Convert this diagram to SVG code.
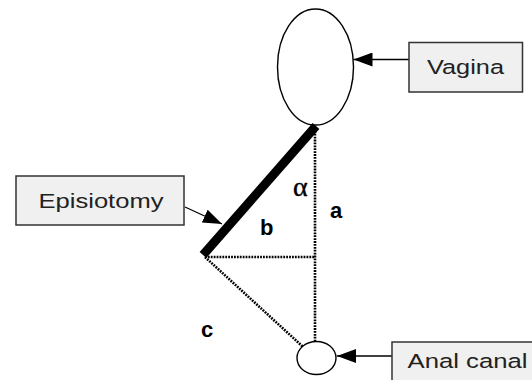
<svg xmlns="http://www.w3.org/2000/svg" width="532" height="380" viewBox="0 0 532 380">
<defs>
<marker id="ah" markerUnits="userSpaceOnUse" markerWidth="20" markerHeight="14" refX="19" refY="7" orient="auto">
<path d="M0,0 L19,7 L0,14 Z" fill="#000"/>
</marker>
<style>
.box{fill:#f0f0f0;stroke:#333;stroke-width:1.5}
.lbl{font-family:"Liberation Sans",Arial,sans-serif;font-size:20.5px;fill:#222}
.var{font-family:"Liberation Sans",Arial,sans-serif;font-size:22px;font-weight:bold;fill:#000}
.dot{fill:none;stroke:#000;stroke-width:2.6;stroke-dasharray:1.8 1.1}
.conn{fill:none;stroke:#000;stroke-width:1.3}
.shape{fill:#fff;stroke:#000;stroke-width:1.4}
</style>
</defs>
<rect width="532" height="380" fill="#fff"/>
<g id="guides">
<line class="dot" x1="315" y1="128" x2="315" y2="341"/>
<line class="dot" x1="205" y1="257" x2="315" y2="257"/>
<line class="dot" x1="205" y1="257" x2="313" y2="356"/>
</g>
<g id="vagina-shape"><ellipse class="shape" cx="315.5" cy="67" rx="38" ry="58"/></g>
<g id="anal-shape"><ellipse class="shape" cx="316.5" cy="358" rx="19.5" ry="16.5" fill="none"/></g>
<g id="episiotomy-line"><line x1="316" y1="126" x2="203" y2="255" stroke="#000" stroke-width="9"/></g>
<g id="connectors">
<line class="conn" x1="409" y1="59.5" x2="353.5" y2="59.5" marker-end="url(#ah)"/>
<line class="conn" x1="185" y1="207" x2="222" y2="224" marker-end="url(#ah)"/>
<line class="conn" x1="392" y1="356" x2="337" y2="356" marker-end="url(#ah)"/>
</g>
<g id="vagina"><rect class="box" x="409" y="42.5" width="113.5" height="49.5"/><text class="lbl" x="427" y="74" textLength="77" lengthAdjust="spacingAndGlyphs">Vagina</text></g>
<g id="episiotomy"><rect class="box" x="16" y="176" width="168" height="49"/><text class="lbl" x="38.5" y="208.3" textLength="125" lengthAdjust="spacingAndGlyphs">Episiotomy</text></g>
<g id="anal-canal"><rect class="box" x="392" y="342" width="145" height="45"/><text class="lbl" x="407.5" y="368.3" textLength="120" lengthAdjust="spacingAndGlyphs">Anal canal</text></g>
<g id="labels">
<text x="293" y="195.5" font-family="'Liberation Serif',serif" font-size="28" fill="#000" stroke="#000" stroke-width="0.4">α</text>
<text class="var" x="330" y="218.3">a</text>
<text class="var" x="260" y="235">b</text>
<text class="var" x="201" y="336.7">c</text>
</g>
</svg>
